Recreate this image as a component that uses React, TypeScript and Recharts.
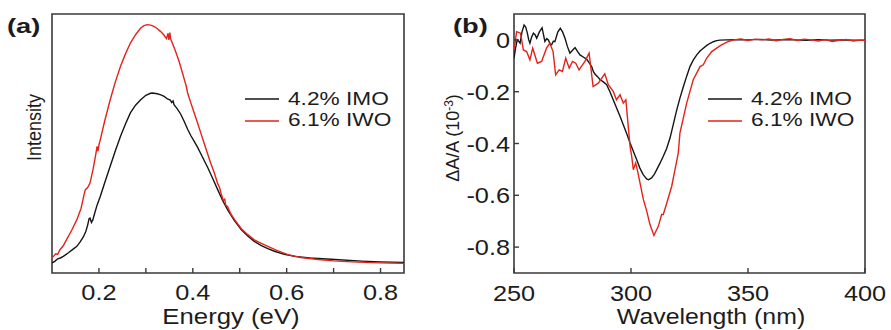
import React from 'react';
import { LineChart, Line, XAxis, YAxis, ReferenceArea } from 'recharts';

const FONT = '"Liberation Sans", Arial, Helvetica, sans-serif';
const INK = '#1c1c1c';
const FRAME = '#3a3a3a';
const BLACK = '#151515';
const RED = '#e2231a';

const seriesNames = ['4.2% IMO', '6.1% IWO'];

// ---- (a) emission spectra, arbitrary intensity units ----
const energyImo = [
  0.100, 0.106, 0.112, 0.118, 0.124, 0.135, 0.145, 0.153, 0.160, 0.167, 0.172, 0.176, 0.179, 0.181,
  0.184, 0.187, 0.190, 0.196, 0.203, 0.213, 0.224, 0.235, 0.246, 0.257, 0.267, 0.278, 0.289, 0.300,
  0.310, 0.314, 0.324, 0.332, 0.339, 0.346, 0.352, 0.355, 0.358, 0.360, 0.367, 0.374, 0.381, 0.389,
  0.396, 0.403, 0.410, 0.420, 0.431, 0.442, 0.453, 0.463, 0.474, 0.488, 0.503, 0.517, 0.531, 0.546,
  0.560, 0.574, 0.595, 0.617, 0.650, 0.703, 0.760, 0.800, 0.850,
];
const intensityImo = [
  0.039, 0.045, 0.055, 0.058, 0.064, 0.078, 0.092, 0.103, 0.120, 0.140, 0.160, 0.185, 0.210, 0.212,
  0.195, 0.205, 0.225, 0.262, 0.296, 0.352, 0.412, 0.472, 0.528, 0.577, 0.618, 0.648, 0.669, 0.686,
  0.694, 0.695, 0.692, 0.688, 0.682, 0.672, 0.668, 0.658, 0.664, 0.650, 0.634, 0.614, 0.588, 0.555,
  0.530, 0.508, 0.486, 0.450, 0.410, 0.367, 0.322, 0.282, 0.245, 0.204, 0.168, 0.143, 0.122, 0.106,
  0.094, 0.084, 0.072, 0.064, 0.058, 0.052, 0.046, 0.043, 0.041,
];
const energyIwo = [
  0.100, 0.105, 0.108, 0.112, 0.117, 0.124, 0.131, 0.142, 0.153, 0.162, 0.168, 0.171, 0.176, 0.181,
  0.188, 0.193, 0.196, 0.198, 0.200, 0.203, 0.212, 0.224, 0.235, 0.246, 0.257, 0.267, 0.278, 0.289,
  0.296, 0.303, 0.310, 0.317, 0.324, 0.331, 0.338, 0.344, 0.347, 0.349, 0.351, 0.353, 0.357, 0.362,
  0.367, 0.372, 0.378, 0.380, 0.383, 0.386, 0.389, 0.396, 0.403, 0.410, 0.417, 0.424, 0.431, 0.438,
  0.446, 0.453, 0.457, 0.460, 0.465, 0.468, 0.470, 0.474, 0.481, 0.489, 0.503, 0.517, 0.531, 0.546,
  0.560, 0.580, 0.603, 0.630, 0.667, 0.700, 0.739, 0.780, 0.820, 0.850,
];
const intensityIwo = [
  0.058, 0.068, 0.074, 0.072, 0.090, 0.105, 0.129, 0.165, 0.206, 0.250, 0.300, 0.322, 0.330, 0.347,
  0.405, 0.455, 0.489, 0.470, 0.495, 0.515, 0.585, 0.669, 0.738, 0.798, 0.848, 0.888, 0.920, 0.946,
  0.955, 0.959, 0.957, 0.952, 0.944, 0.933, 0.920, 0.905, 0.925, 0.900, 0.928, 0.902, 0.885, 0.862,
  0.837, 0.810, 0.772, 0.760, 0.740, 0.722, 0.695, 0.656, 0.618, 0.580, 0.541, 0.502, 0.463, 0.425,
  0.386, 0.345, 0.330, 0.309, 0.280, 0.285, 0.262, 0.257, 0.228, 0.206, 0.172, 0.148, 0.128, 0.114,
  0.103, 0.086, 0.071, 0.060, 0.052, 0.047, 0.043, 0.040, 0.038, 0.037,
];
const energyTicks = [0.2, 0.3, 0.4, 0.5, 0.6, 0.7, 0.8];
const energyLabels = ['0.2', '', '0.4', '', '0.6', '', '0.8'];

// ---- (b) transient absorption, ΔA/A in units of 1e-3 ----
const wavelengthImo = [
  250.0, 250.7, 251.4, 252.0, 252.6, 253.4, 254.3, 255.0, 255.7, 256.3, 256.8, 257.5, 258.3, 259.0,
  259.7, 260.8, 262.0, 262.6, 263.2, 264.0, 264.7, 265.4, 266.1, 266.8, 267.5, 268.7, 269.8, 270.8,
  271.8, 272.8, 273.9, 275.0, 276.1, 277.2, 278.2, 279.6, 281.1, 282.2, 283.2, 283.9, 284.6, 285.7,
  286.8, 288.2, 289.6, 291.0, 292.4, 293.8, 295.3, 296.7, 298.1, 299.6, 301.0, 302.4, 303.8, 305.2,
  306.7, 307.5, 308.8, 310.0, 311.0, 312.4, 313.8, 315.2, 316.7, 318.1, 319.5, 321.0, 322.4, 323.8,
  325.2, 326.6, 328.1, 329.5, 330.9, 332.4, 333.8, 335.2, 336.6, 338.0, 340.9, 345.0, 350.0, 355.0,
  360.0, 365.0, 370.0, 375.0, 380.0, 385.0, 390.0, 395.0, 400.0,
];
const dAImo = [
  -0.071, -0.030, 0.000, -0.005, -0.013, 0.030, 0.058, 0.050, 0.026, 0.000, -0.013, 0.010, 0.026, 0.020,
  0.006, 0.030, 0.047, 0.020, -0.006, 0.005, 0.000, -0.015, -0.019, -0.005, -0.006, 0.030, 0.045, 0.030,
  0.006, -0.025, -0.051, -0.040, -0.030, -0.045, -0.058, -0.066, -0.075, -0.090, -0.103, -0.122, -0.132, -0.142,
  -0.154, -0.162, -0.173, -0.200, -0.231, -0.262, -0.295, -0.328, -0.360, -0.398, -0.430, -0.462, -0.495, -0.520,
  -0.537, -0.540, -0.533, -0.518, -0.501, -0.476, -0.449, -0.420, -0.378, -0.325, -0.272, -0.222, -0.180, -0.140,
  -0.103, -0.078, -0.058, -0.043, -0.032, -0.021, -0.013, -0.007, -0.003, -0.001, 0.000, 0.001, 0.000, 0.002,
  -0.001, 0.001, 0.000, -0.002, 0.001, -0.001, 0.000, -0.001, -0.001,
];
const wavelengthIwo = [
  250.0, 250.5, 251.1, 252.8, 254.0, 255.4, 256.8, 258.0, 260.0, 261.8, 263.9, 265.3, 266.7, 267.8,
  269.3, 270.7, 272.1, 273.6, 275.0, 276.4, 277.8, 280.3, 282.1, 283.8, 286.0, 288.8, 290.3, 292.4,
  293.8, 295.3, 296.7, 297.8, 299.6, 300.3, 301.0, 302.0, 303.0, 305.3, 306.7, 308.1, 309.8, 311.7,
  313.1, 313.8, 315.3, 317.4, 318.8, 320.2, 320.9, 323.8, 326.6, 329.5, 330.9, 332.3, 334.5, 336.6,
  338.7, 341.6, 344.0, 347.0, 350.0, 353.0, 356.0, 359.0, 362.0, 365.0, 368.0, 371.0, 374.0, 377.0,
  380.0, 383.0, 386.0, 389.0, 392.0, 395.0, 398.0, 400.0,
];
const dAIwo = [
  -0.039, -0.010, 0.032, 0.026, -0.039, -0.045, -0.077, -0.032, -0.090, -0.083, -0.032, -0.013, -0.045, -0.135,
  -0.116, -0.122, -0.071, -0.109, -0.083, -0.090, -0.116, -0.083, -0.051, -0.180, -0.167, -0.131, -0.173, -0.199,
  -0.231, -0.212, -0.244, -0.231, -0.411, -0.450, -0.501, -0.475, -0.514, -0.617, -0.660, -0.713, -0.755, -0.719,
  -0.674, -0.674, -0.630, -0.565, -0.501, -0.437, -0.360, -0.244, -0.154, -0.103, -0.096, -0.071, -0.045, -0.032,
  -0.019, -0.006, 0.000, 0.004, -0.002, 0.003, 0.000, 0.004, -0.003, 0.002, 0.005, -0.002, 0.003, 0.000,
  -0.004, 0.001, -0.006, -0.002, 0.002, -0.004, -0.001, -0.002,
];
const wavelengthTicks = [250, 300, 350, 400];
const dATicks = [0, -0.2, -0.4, -0.6, -0.8];
const dALabels = ['0', '-0.2', '-0.4', '-0.6', '-0.8'];

const zip = (xs: number[], ys: number[]) => xs.map((x, i) => ({ x, y: ys[i] }));

const imoSpectrum = zip(energyImo, intensityImo);
const iwoSpectrum = zip(energyIwo, intensityIwo);
const imoTransient = zip(wavelengthImo, dAImo);
const iwoTransient = zip(wavelengthIwo, dAIwo);

const STRETCH = 1.15;
const TICK_FONT = 22;

const EnergyTick = (props: any) => {
  const { x, y, payload, index } = props;
  const label = energyLabels[energyTicks.indexOf(payload.value)] ?? '';
  return (
    <g key={`et-${index}`}>
      <line x1={x} x2={x} y1={y} y2={y - 5} stroke={FRAME} strokeWidth={1.4} />
      {label && (
        <text
          transform={`translate(${x},${y + 27}) scale(${STRETCH},1)`}
          textAnchor="middle"
          fontSize={TICK_FONT}
          fontFamily={FONT}
          fill={INK}
        >
          {label}
        </text>
      )}
    </g>
  );
};

const WavelengthTick = (props: any) => {
  const { x, y, payload, index } = props;
  return (
    <g key={`wt-${index}`}>
      <line x1={x} x2={x} y1={y} y2={y - 5} stroke={FRAME} strokeWidth={1.4} />
      <text
        transform={`translate(${x},${y + 28}) scale(${STRETCH},1)`}
        textAnchor="middle"
        fontSize={TICK_FONT}
        fontFamily={FONT}
        fill={INK}
      >
        {String(payload.value)}
      </text>
    </g>
  );
};

const DATick = (props: any) => {
  const { x, y, payload, index } = props;
  const label = dALabels[dATicks.indexOf(payload.value)] ?? '';
  return (
    <g key={`dt-${index}`}>
      <line x1={x} x2={x + 5} y1={y} y2={y} stroke={FRAME} strokeWidth={1.4} />
      <text
        transform={`translate(${x - 4},${y + 8}) scale(${STRETCH},1)`}
        textAnchor="end"
        fontSize={TICK_FONT}
        fontFamily={FONT}
        fill={INK}
      >
        {label}
      </text>
    </g>
  );
};

const LegendBlock = ({ x, colors }: { x: number; colors: string[] }) => (
  <g>
    {seriesNames.map((name, i) => (
      <g key={name}>
        <line x1={x} x2={x + 34} y1={99 + i * 22} y2={99 + i * 22} stroke={colors[i]} strokeWidth={1.6} />
        <text
          transform={`translate(${x + 43},${104.5 + i * 21.5}) scale(1.26,1)`}
          fontSize={18}
          fontFamily={FONT}
          fill={INK}
        >
          {name}
        </text>
      </g>
    ))}
  </g>
);

const annotationsA = () => (
  <g>
    <text transform="translate(7,32.5) scale(1.3,1)" fontSize={21} fontWeight="bold" fontFamily={FONT} fill={INK}>
      (a)
    </text>
    <text
      transform="translate(41,127.5) scale(1.15,1) rotate(-90)"
      textAnchor="middle"
      fontSize={18}
      fontFamily={FONT}
      fill={INK}
    >
      Intensity
    </text>
    <text
      transform={`translate(231,324) scale(1.17,1)`}
      textAnchor="middle"
      fontSize={22}
      fontFamily={FONT}
      fill={INK}
    >
      Energy (eV)
    </text>
    <LegendBlock x={245} colors={[BLACK, RED]} />
  </g>
);

const annotationsB = () => (
  <g>
    <text transform="translate(13,32.5) scale(1.3,1)" fontSize={21} fontWeight="bold" fontFamily={FONT} fill={INK}>
      (b)
    </text>
    <text
      transform="translate(19,138) rotate(-90)"
      textAnchor="middle"
      fontSize={18}
      fontFamily={FONT}
      fill={INK}
    >
      ΔA/A (10
      <tspan fontSize={12} dy={-6}>-3</tspan>
      <tspan dy={6}>)</tspan>
    </text>
    <text
      transform={`translate(271,324) scale(1.13,1)`}
      textAnchor="middle"
      fontSize={22}
      fontFamily={FONT}
      fill={INK}
    >
      Wavelength (nm)
    </text>
    <LegendBlock x={268} colors={[BLACK, RED]} />
  </g>
);

export default function App() {
  return (
    <div style={{ position: 'absolute', left: 0, top: 0, width: 891, height: 330, background: '#fff' }}>
      <div style={{ position: 'absolute', left: 0, top: 0 }}>
        <LineChart width={440} height={330} margin={{ top: 14, right: 36, bottom: 27, left: 12 }}>
          <XAxis
            type="number"
            dataKey="x"
            domain={[0.1, 0.85]}
            ticks={energyTicks}
            interval={0}
            allowDataOverflow
            height={30}
            axisLine={false}
            tickLine={false}
            tickSize={0}
            tickMargin={0}
            tick={<EnergyTick />}
            label={{ content: annotationsA }}
          />
          <YAxis type="number" domain={[0, 1]} width={40} tick={false} axisLine={false} tickLine={false} />
          <ReferenceArea x1={0.1} x2={0.85} y1={0} y2={1} fill="none" stroke={FRAME} strokeWidth={1.6} />
          <Line data={imoSpectrum} dataKey="y" name={seriesNames[0]} stroke={BLACK} strokeWidth={1.4} dot={false} isAnimationActive={false} />
          <Line data={iwoSpectrum} dataKey="y" name={seriesNames[1]} stroke={RED} strokeWidth={1.4} dot={false} isAnimationActive={false} />
        </LineChart>
      </div>
      <div style={{ position: 'absolute', left: 440, top: 0 }}>
        <LineChart width={451} height={330} margin={{ top: 14, right: 26, bottom: 27, left: 14 }}>
          <XAxis
            type="number"
            dataKey="x"
            domain={[250, 400]}
            ticks={wavelengthTicks}
            interval={0}
            allowDataOverflow
            height={30}
            axisLine={false}
            tickLine={false}
            tickSize={0}
            tickMargin={0}
            tick={<WavelengthTick />}
            label={{ content: annotationsB }}
          />
          <YAxis
            type="number"
            domain={[-0.9, 0.1]}
            ticks={dATicks}
            interval={0}
            allowDataOverflow
            width={60}
            axisLine={false}
            tickLine={false}
            tickSize={0}
            tickMargin={0}
            tick={<DATick />}
          />
          <ReferenceArea x1={250} x2={400} y1={-0.9} y2={0.1} fill="none" stroke={FRAME} strokeWidth={1.6} />
          <Line data={imoTransient} dataKey="y" name={seriesNames[0]} stroke={BLACK} strokeWidth={1.4} dot={false} isAnimationActive={false} />
          <Line data={iwoTransient} dataKey="y" name={seriesNames[1]} stroke={RED} strokeWidth={1.4} dot={false} isAnimationActive={false} />
        </LineChart>
      </div>
    </div>
  );
}
